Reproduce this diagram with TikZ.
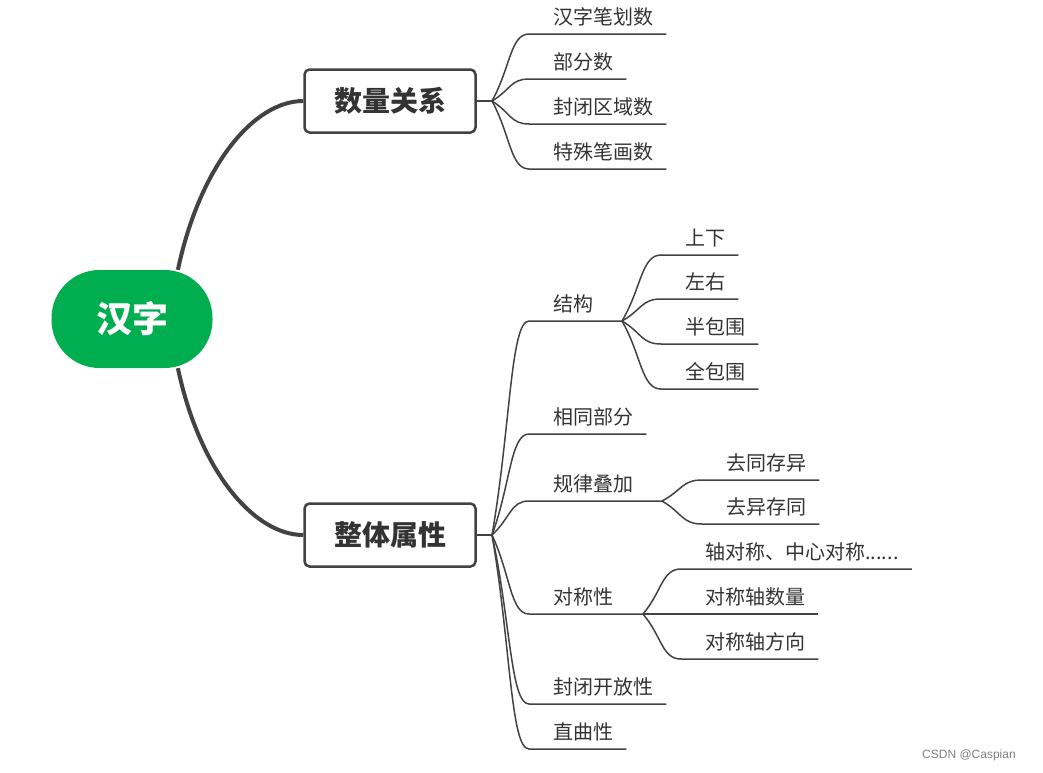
\documentclass[tikz,border=0pt]{standalone}
\usepackage{fontspec}
\setmainfont{Noto Sans CJK SC}
\newfontfamily\wmfont{Liberation Sans}
\usetikzlibrary{calc}
\definecolor{rootgreen}{HTML}{00AE4F}
\definecolor{inkgray}{HTML}{424242}
\definecolor{textgray}{HTML}{333333}
\newcommand{\sixdots}{......}
\tikzset{
  twig/.style={draw=inkgray, line width=1.5pt},
  trunk/.style={draw=inkgray, line width=4pt, out looseness=1.3, in looseness=0.6},
  soft/.style={to path={.. controls ($(\tikztostart)!0.5!(\tikztotarget)$) and ($(\tikztostart|-\tikztotarget)!0.5!(\tikztotarget)$) .. (\tikztotarget)}},
  leaf/.style={anchor=base west, inner sep=0pt, text=textgray, font=\fontsize{20}{24}\selectfont},
  topic/.style={draw=inkgray, line width=2.5pt, rounded corners=5pt, fill=white, minimum width=171pt, minimum height=63pt, text=textgray, font=\bfseries\fontsize{28}{32}\selectfont},
  hub/.style={fill=rootgreen, rounded corners=48pt, minimum width=161pt, minimum height=98pt, text=white, font=\bfseries\fontsize{36}{40}\selectfont},
}
\begin{document}
\begin{tikzpicture}[x=1pt,y=1pt]
    \useasboundingbox (0,0) rectangle (1043,-772);

    % Root and main topics
    \node[hub] (root) at (132,-319) {汉字};
    \node[topic] (m1) at (390,-101) {数量关系};
    \node[topic] (m2) at (390,-535) {整体属性};
    \draw[trunk] (root.47) to[out=78,in=180] (m1.west);
    \draw[trunk] (root.-47) to[out=-78,in=180] (m2.west);

    % Fork points
    \coordinate (fa) at (492,-101);
    \coordinate (fb) at (492,-535);
    \coordinate (fc) at (622,-321);
    \coordinate (fd) at (662,-501);
    \coordinate (fe) at (643,-614);
    \draw[twig] (m1.east) -- (fa);
    \draw[twig] (m2.east) -- (fb);

    % Sub topics that branch again
    \foreach \n/\p/\y/\txt in {b1/fc/321/结构, b3/fd/501/规律叠加, b4/fe/614/对称性} {
        \coordinate (\n-s) at (529,-\y);
        \node[leaf] (\n) at (553,-\y+10) {\txt};
        \draw[twig] (fb) to[soft] (\n-s) -- (\p);
    }

    % Leaves
    \foreach \n/\p/\x/\y/\txt in {a1/fa/553/34/汉字笔划数, a2/fa/553/79/部分数,
        a3/fa/553/124/封闭区域数, a4/fa/553/169/特殊笔画数,
        b2/fb/553/434/相同部分, b5/fb/553/704/封闭开放性, b6/fb/553/749/直曲性,
        c1/fc/685/255/上下, c2/fc/685/299/左右, c3/fc/685/344/半包围, c4/fc/685/389/全包围,
        d1/fd/726/480/去同存异, d2/fd/726/524/去异存同,
        e1/fe/705/569/轴对称、中心对称\sixdots, e2/fe/705/614/对称轴数量, e3/fe/705/659/对称轴方向} {
        \coordinate (\n-s) at (\x-24,-\y);
        \node[leaf] (\n) at (\x,-\y+10) {\txt};
        \draw[twig] (\p) to[soft] (\n-s) -- (\n-s -| \n.east) -- ++(13,0);
    }

    % Watermark
    \node[anchor=west, inner sep=0pt, text=gray, font=\wmfont\fontsize{12}{14}\selectfont] (mark) at (922,-755) {CSDN @Caspian};
\end{tikzpicture}
\end{document}
